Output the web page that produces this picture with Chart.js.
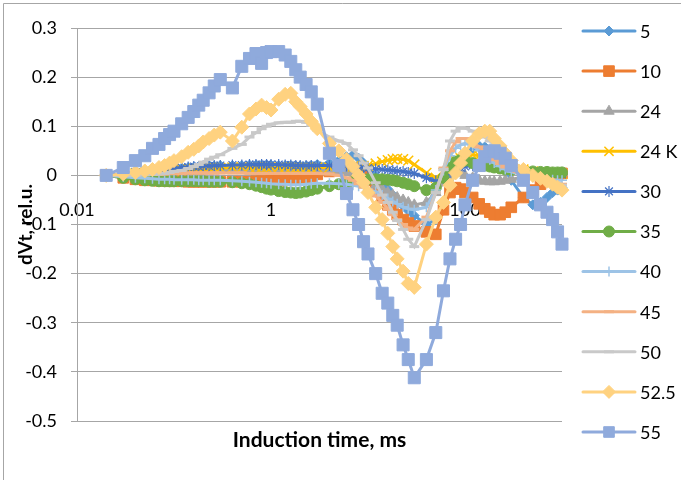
<!DOCTYPE html>
<html>
<head>
<meta charset="utf-8">
<script src="https://cdn.jsdelivr.net/npm/chart.js"></script>
<style>
  body { margin: 0; background: #fff; }
  canvas { display: block; }
</style>
</head>
<body>
<canvas id="myChart" width="681" height="480"></canvas>
<script>
// induction time, ms (shared by all series)
const times = [
  0.02, 0.03, 0.04, 0.05, 0.06, 0.07, 0.08, 0.09, 0.1, 0.12, 0.14, 0.16, 0.18, 0.2, 0.23, 0.26, 0.3,
  0.4, 0.5, 0.6, 0.7, 0.8, 0.9, 1, 1.2, 1.4, 1.6, 1.8, 2, 2.3, 2.6, 3,
  4, 5, 6, 7, 8, 9, 10, 12, 14, 16, 18, 20, 23, 26, 30,
  40, 50, 60, 70, 80, 90, 100, 120, 140, 160, 180, 200, 230, 260, 300,
  400, 500, 600, 700, 800, 900, 1000
];

const seriesNames = ['5', '10', '24', '24 K', '30', '35', '40', '45', '50', '52.5', '55'];

const dvt5 = [
  0, 0.004, 0.006, 0.008, 0.01, 0.011, 0.012, 0.013, 0.014, 0.015, 0.016, 0.017, 0.018, 0.018, 0.019, 0.019, 0.02,
  0.02, 0.02, 0.021, 0.021, 0.021, 0.021, 0.021, 0.02, 0.02, 0.02, 0.019, 0.019, 0.019, 0.02, 0.022,
  0.025, 0.03, 0.038, 0.042, 0.035, 0.025, 0.015, 0, -0.015, -0.028, -0.04, -0.05, -0.062, -0.072, -0.082,
  -0.1, -0.09, -0.055, -0.02, 0.005, 0.025, 0.04, 0.055, 0.06, 0.058, 0.05, 0.04, 0.025, 0.01, -0.01,
  -0.045, -0.06, -0.055, -0.045, -0.035, -0.03, -0.025
];
const dvt10 = [
  0, -0.005, -0.008, -0.01, -0.01, -0.011, -0.011, -0.012, -0.012, -0.012, -0.013, -0.013, -0.013, -0.013, -0.013, -0.013, -0.013,
  -0.013, -0.013, -0.013, -0.012, -0.012, -0.012, -0.011, -0.011, -0.01, -0.01, -0.009, -0.008, -0.005, -0.002, 0.002,
  0.008, 0.012, 0.014, 0.013, 0.008, 0, -0.01, -0.03, -0.045, -0.06, -0.07, -0.08, -0.09, -0.097, -0.103,
  -0.115, -0.12, -0.07, -0.035, -0.025, -0.028, -0.035, -0.045, -0.058, -0.068, -0.075, -0.08, -0.08, -0.075, -0.065,
  -0.045, -0.03, -0.018, -0.01, -0.004, 0, 0.004
];
const dvt24 = [
  0, 0.002, 0.003, 0.004, 0.005, 0.005, 0.006, 0.006, 0.007, 0.007, 0.008, 0.008, 0.008, 0.009, 0.009, 0.009, 0.01,
  0.01, 0.01, 0.01, 0.01, 0.01, 0.01, 0.01, 0.01, 0.01, 0.01, 0.01, 0.01, 0.01, 0.01, 0.01,
  0.01, 0.01, 0.008, 0.005, 0, -0.005, -0.01, -0.02, -0.028, -0.035, -0.04, -0.045, -0.05, -0.055, -0.06,
  -0.055, -0.035, -0.015, 0, 0.005, 0.005, 0, -0.005, -0.01, -0.012, -0.013, -0.013, -0.012, -0.01, -0.008,
  -0.004, 0, 0.002, 0.003, 0.004, 0.004, 0.005
];
const dvt24K = [
  0, 0.002, 0.004, 0.005, 0.006, 0.007, 0.008, 0.009, 0.01, 0.011, 0.012, 0.013, 0.013, 0.014, 0.014, 0.015, 0.015,
  0.016, 0.016, 0.016, 0.016, 0.016, 0.016, 0.016, 0.016, 0.016, 0.016, 0.015, 0.015, 0.015, 0.015, 0.016,
  0.016, 0.017, 0.018, 0.018, 0.018, 0.019, 0.02, 0.024, 0.028, 0.031, 0.033, 0.034, 0.033, 0.03, 0.022,
  0.005, -0.005, 0.005, 0.02, 0.03, 0.035, 0.04, 0.042, 0.04, 0.037, 0.034, 0.03, 0.026, 0.022, 0.018,
  0.012, 0.008, 0.006, 0.005, 0.004, 0.003, 0.003
];
const dvt30 = [
  0, 0.004, 0.007, 0.009, 0.011, 0.012, 0.013, 0.014, 0.015, 0.016, 0.017, 0.018, 0.018, 0.019, 0.019, 0.02, 0.02,
  0.021, 0.021, 0.022, 0.022, 0.022, 0.022, 0.022, 0.022, 0.021, 0.021, 0.02, 0.02, 0.02, 0.02, 0.02,
  0.02, 0.02, 0.019, 0.018, 0.017, 0.016, 0.015, 0.013, 0.012, 0.011, 0.01, 0.009, 0.008, 0.006, 0.004,
  -0.005, -0.012, -0.005, 0.005, 0.012, 0.016, 0.018, 0.02, 0.02, 0.02, 0.018, 0.016, 0.014, 0.012, 0.01,
  0.007, 0.005, 0.004, 0.003, 0.003, 0.002, 0.002
];
const dvt35 = [
  0, -0.005, -0.008, -0.01, -0.011, -0.012, -0.012, -0.012, -0.012, -0.012, -0.012, -0.012, -0.012, -0.012, -0.013, -0.013, -0.013,
  -0.014, -0.016, -0.018, -0.021, -0.024, -0.027, -0.029, -0.032, -0.034, -0.035, -0.036, -0.035, -0.033, -0.03, -0.027,
  -0.022, -0.018, -0.015, -0.012, -0.01, -0.009, -0.008, -0.008, -0.008, -0.009, -0.01, -0.012, -0.015, -0.018, -0.022,
  -0.03, -0.025, -0.005, 0.015, 0.028, 0.032, 0.03, 0.025, 0.022, 0.02, 0.018, 0.016, 0.014, 0.012, 0.011,
  0.009, 0.008, 0.007, 0.007, 0.006, 0.006, 0.006
];
const dvt40 = [
  0, -0.003, -0.005, -0.006, -0.007, -0.008, -0.008, -0.008, -0.009, -0.009, -0.009, -0.009, -0.01, -0.01, -0.01, -0.01, -0.01,
  -0.011, -0.012, -0.013, -0.014, -0.015, -0.016, -0.017, -0.018, -0.018, -0.019, -0.019, -0.019, -0.018, -0.017, -0.016,
  -0.016, -0.017, -0.018, -0.02, -0.022, -0.025, -0.028, -0.033, -0.04, -0.047, -0.053, -0.058, -0.064, -0.068, -0.07,
  -0.065, -0.03, 0.01, 0.04, 0.055, 0.062, 0.065, 0.06, 0.05, 0.04, 0.032, 0.025, 0.018, 0.012, 0.007,
  0, -0.004, -0.006, -0.008, -0.009, -0.01, -0.01
];
const dvt45 = [
  0, 0.001, 0.002, 0.002, 0.003, 0.003, 0.003, 0.004, 0.004, 0.004, 0.005, 0.005, 0.005, 0.005, 0.005, 0.005, 0.005,
  0.005, 0.005, 0.004, 0.004, 0.004, 0.004, 0.004, 0.004, 0.004, 0.004, 0.004, 0.004, 0.004, 0.004, 0.004,
  0.003, 0, -0.005, -0.01, -0.017, -0.024, -0.03, -0.042, -0.055, -0.068, -0.08, -0.09, -0.1, -0.107, -0.11,
  -0.085, -0.035, 0.015, 0.05, 0.068, 0.075, 0.075, 0.068, 0.058, 0.048, 0.04, 0.032, 0.024, 0.017, 0.01,
  0, -0.006, -0.01, -0.013, -0.015, -0.017, -0.018
];
const dvt50 = [
  0, 0, 0, 0.001, 0.002, 0.003, 0.004, 0.006, 0.008, 0.01, 0.014, 0.018, 0.022, 0.027, 0.033, 0.037, 0.042,
  0.055, 0.063, 0.078, 0.087, 0.095, 0.1, 0.104, 0.107, 0.108, 0.108, 0.11, 0.11, 0.108, 0.102, 0.092,
  0.078, 0.07, 0.065, 0.052, 0.04, 0.025, 0.015, -0.015, -0.04, -0.055, -0.075, -0.092, -0.11, -0.13, -0.145,
  -0.09, -0.035, 0.012, 0.07, 0.09, 0.097, 0.096, 0.09, 0.085, 0.078, 0.07, 0.062, 0.052, 0.042, 0.03,
  0.012, 0, -0.006, -0.01, -0.014, -0.017, -0.02
];
const dvt52_5 = [
  0, 0.003, 0.006, 0.009, 0.012, 0.016, 0.02, 0.025, 0.03, 0.038, 0.047, 0.053, 0.06, 0.068, 0.075, 0.082, 0.088,
  0.07, 0.098, 0.125, 0.135, 0.143, 0.138, 0.133, 0.155, 0.165, 0.167, 0.15, 0.14, 0.125, 0.11, 0.095,
  0.065, 0.05, 0.033, 0.018, 0, -0.015, -0.035, -0.065, -0.09, -0.118, -0.145, -0.17, -0.195, -0.22, -0.228,
  -0.14, -0.085, -0.055, -0.02, 0.005, 0.025, 0.045, 0.07, 0.085, 0.09, 0.09, 0.075, 0.06, 0.045, 0.03,
  0.012, 0, -0.006, -0.012, -0.018, -0.024, -0.03
];
const dvt55 = [
  0, 0.016, 0.03, 0.04, 0.055, 0.063, 0.075, 0.083, 0.09, 0.105, 0.118, 0.13, 0.143, 0.153, 0.168, 0.182, 0.195,
  0.178, 0.222, 0.238, 0.248, 0.228, 0.25, 0.252, 0.252, 0.245, 0.232, 0.215, 0.2, 0.185, 0.17, 0.145,
  0.045, 0.02, -0.037, -0.07, -0.1, -0.135, -0.16, -0.2, -0.24, -0.26, -0.285, -0.305, -0.345, -0.375, -0.412,
  -0.375, -0.32, -0.235, -0.17, -0.13, -0.1, -0.06, -0.01, 0.02, 0.038, 0.048, 0.05, 0.045, 0.035, 0.02,
  -0.01, -0.035, -0.06, -0.075, -0.09, -0.115, -0.14
];

const xTickValues = [0.01, 1, 100];
const xTitle = 'Induction time, ms';
const yTitle = 'dVt, rel.u.';

/*********************************
 *     Style per series          *
 ********************************/
const seriesData = [dvt5, dvt10, dvt24, dvt24K, dvt30, dvt35, dvt40, dvt45, dvt50, dvt52_5, dvt55];
const seriesLook = [
  { color: '#5B9BD5', style: 'rectRot', r: 5, bw: 1 },
  { color: '#ED7D31', style: 'rect', r: 7.5, bw: 1 },
  { color: '#A5A5A5', style: 'triangle', r: 6, bw: 1 },
  { color: '#FFC000', style: 'crossRot', r: 7, bw: 1.5 },
  { color: '#4472C4', style: 'star', r: 5.5, bw: 1.2 },
  { color: '#70AD47', style: 'circle', r: 5.5, bw: 1 },
  { color: '#9DC3E6', style: 'cross', r: 5, bw: 1.5 },
  { color: '#F4B183', style: 'line', r: 5, bw: 3 },
  { color: '#C9C9C9', style: 'line', r: 5, bw: 3 },
  { color: '#FFD280', style: 'rectRot', r: 7, bw: 1 },
  { color: '#8FAADC', style: 'rect', r: 8.5, bw: 1 }
];

const datasets = seriesNames.map(function (name, i) {
  const look = seriesLook[i];
  return {
    label: name,
    data: times.map(function (t, k) { return { x: t, y: seriesData[i][k] }; }),
    borderColor: look.color,
    backgroundColor: look.color,
    borderWidth: 3,
    pointStyle: look.style,
    pointRadius: look.r,
    pointBorderWidth: look.bw,
    pointBackgroundColor: look.color,
    pointBorderColor: look.color,
    tension: 0,
    clip: false,
    order: seriesNames.length - i   // later series on top, as in the original
  };
});

// chart border, x title and the line+marker legend on the right
const excelExtras = {
  id: 'excelExtras',
  afterDraw: function (chart) {
    const ctx = chart.ctx;
    const area = chart.chartArea;
    ctx.save();
    ctx.strokeStyle = '#A6A6A6';
    ctx.lineWidth = 1;
    ctx.beginPath();
    ctx.moveTo(3.5, 480);
    ctx.lineTo(3.5, 3.5);
    ctx.lineTo(681, 3.5);
    ctx.stroke();

    ctx.fillStyle = '#000';
    ctx.font = 'bold 21px Lato';
    ctx.textAlign = 'center';
    ctx.textBaseline = 'middle';
    ctx.fillText(xTitle, (area.left + area.right) / 2, 440);

    chart.data.datasets.forEach(function (ds, i) {
      const y = 31 + i * 40.1;
      // legend markers keep the size they have in the original legend
      const r = Math.min(ds.pointRadius, ds.pointStyle === 'rect' ? 7.5 : 6.5);
      ctx.strokeStyle = ds.borderColor;
      ctx.fillStyle = ds.borderColor;
      ctx.lineWidth = 3;
      ctx.lineCap = 'round';
      ctx.beginPath();
      ctx.moveTo(583, y);
      ctx.lineTo(635, y);
      ctx.stroke();
      ctx.lineCap = 'butt';
      ctx.lineWidth = ds.pointBorderWidth;
      Chart.helpers.drawPoint(ctx, {
        pointStyle: ds.pointStyle,
        rotation: 0,
        radius: r,
        borderWidth: ds.pointBorderWidth
      }, 609, y);
      ctx.fillStyle = '#000';
      ctx.font = '18px Lato';
      ctx.textAlign = 'left';
      ctx.textBaseline = 'middle';
      ctx.fillText(ds.label, 640, y + 1);
    });
    ctx.restore();
  }
};

Chart.defaults.font.family = 'Lato';
Chart.defaults.color = '#000';

const config = {
  type: 'line',
  data: { datasets: datasets },
  options: {
    responsive: false,
    animation: false,
    events: [],
    layout: { padding: { top: 28, right: 119, bottom: 59, left: 0 } },
    plugins: {
      legend: { display: false },
      tooltip: { enabled: false }
    },
    scales: {
      x: {
        type: 'logarithmic',
        min: 0.01,
        max: 1000,
        position: { y: 0 },
        afterBuildTicks: function (scale) {
          scale.ticks = xTickValues.map(function (v) { return { value: v }; });
        },
        ticks: {
          font: { size: 18 },
          color: '#000',
          padding: 24,
          maxRotation: 0,
          autoSkip: false,
          callback: function (v) { return String(v); }
        },
        grid: { display: true, drawOnChartArea: false, drawTicks: false, color: '#A6A6A6' },
        border: { display: true, color: '#A6A6A6', width: 1 }
      },
      y: {
        type: 'linear',
        position: 'left',
        min: -0.5,
        max: 0.3,
        afterFit: function (scale) { scale.width = 77; },
        ticks: {
          stepSize: 0.1,
          font: { size: 18 },
          color: '#000',
          padding: 14,
          callback: function (v) { return String(Number(v.toFixed(1))); }
        },
        grid: { color: '#A6A6A6', lineWidth: 1, tickLength: 6 },
        border: { color: '#A6A6A6' },
        title: {
          display: true,
          text: yTitle,
          font: { size: 19, weight: 'bold' },
          padding: { top: 14, bottom: 0 }
        }
      }
    }
  },
  plugins: [excelExtras]
};

var myChart = new Chart(document.getElementById('myChart'), config);
</script>
</body>
</html>
